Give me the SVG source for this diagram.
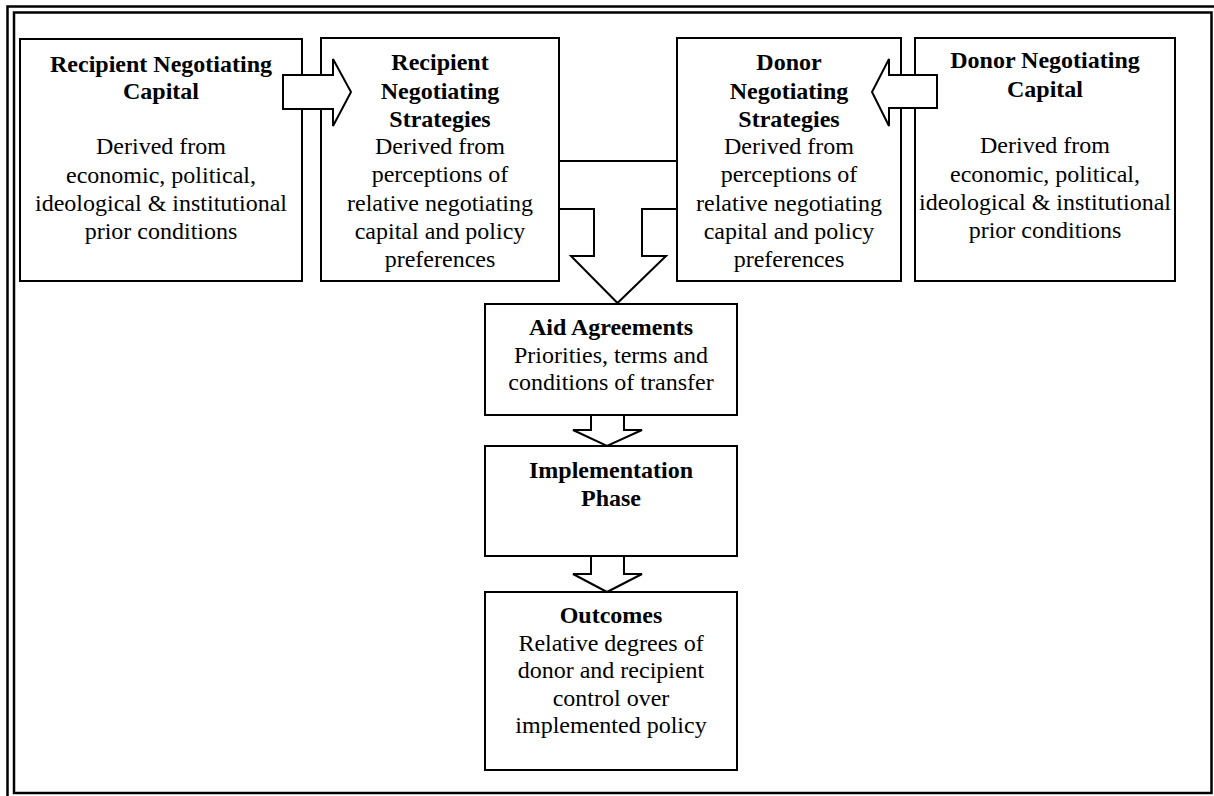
<svg xmlns="http://www.w3.org/2000/svg" width="1214" height="796" viewBox="0 0 1214 796">
<style>
.box{fill:#fff;stroke:#000;stroke-width:2}
.arr{fill:#fff;stroke:#000;stroke-width:2;stroke-linejoin:miter}
.ln{fill:none;stroke:#000;stroke-width:2}
.t{font-family:'Liberation Serif',serif;font-size:24px;text-anchor:middle;fill:#000}
.b{font-weight:bold}
</style>
<rect width="1214" height="796" fill="#fff"/>
<g id="frame">
<path d="M7.5,796 V6.5 H1214" fill="none" stroke="#000" stroke-width="2.5"/>
<rect x="14" y="12.5" width="1197.5" height="780.5" fill="none" stroke="#000" stroke-width="2.5"/>
</g>
<g id="n1">
<rect class="box" x="20" y="39" width="282" height="242"/>
<text class="t b" x="161" y="72">Recipient Negotiating</text>
<text class="t b" x="161" y="99">Capital</text>
<text class="t" x="161" y="154">Derived from</text>
<text class="t" x="161" y="183">economic, political,</text>
<text class="t" x="161" y="211">ideological &amp; institutional</text>
<text class="t" x="161" y="239">prior conditions</text>
</g>
<g id="n2">
<rect class="box" x="321" y="38" width="238" height="243"/>
<text class="t b" x="440" y="70">Recipient</text>
<text class="t b" x="440" y="99">Negotiating</text>
<text class="t b" x="440" y="127">Strategies</text>
<text class="t" x="440" y="154">Derived from</text>
<text class="t" x="440" y="182">perceptions of</text>
<text class="t" x="440" y="211">relative negotiating</text>
<text class="t" x="440" y="239">capital and policy</text>
<text class="t" x="440" y="267">preferences</text>
</g>
<g id="n3">
<rect class="box" x="677" y="38" width="224" height="243"/>
<text class="t b" x="789" y="70">Donor</text>
<text class="t b" x="789" y="99">Negotiating</text>
<text class="t b" x="789" y="127">Strategies</text>
<text class="t" x="789" y="154">Derived from</text>
<text class="t" x="789" y="182">perceptions of</text>
<text class="t" x="789" y="211">relative negotiating</text>
<text class="t" x="789" y="239">capital and policy</text>
<text class="t" x="789" y="267">preferences</text>
</g>
<g id="n4">
<rect class="box" x="915" y="38" width="260" height="243"/>
<text class="t b" x="1045" y="68">Donor Negotiating</text>
<text class="t b" x="1045" y="97">Capital</text>
<text class="t" x="1045" y="153">Derived from</text>
<text class="t" x="1045" y="182">economic, political,</text>
<text class="t" x="1045" y="210">ideological &amp; institutional</text>
<text class="t" x="1045" y="238">prior conditions</text>
</g>
<g id="n5">
<rect class="box" x="485" y="304" width="252" height="111"/>
<text class="t b" x="611" y="335">Aid Agreements</text>
<text class="t" x="611" y="363">Priorities, terms and</text>
<text class="t" x="611" y="390">conditions of transfer</text>
</g>
<g id="n6">
<rect class="box" x="485" y="446" width="252" height="110"/>
<text class="t b" x="611" y="478">Implementation</text>
<text class="t b" x="611" y="506">Phase</text>
</g>
<g id="n7">
<rect class="box" x="485" y="592" width="252" height="178"/>
<text class="t b" x="611" y="623">Outcomes</text>
<text class="t" x="611" y="651">Relative degrees of</text>
<text class="t" x="611" y="678">donor and recipient</text>
<text class="t" x="611" y="706">control over</text>
<text class="t" x="611" y="733">implemented policy</text>
</g>
<g id="connectors">
<polygon class="arr" points="283,75 333,75 333,59 351,92 333,126 333,109 283,109"/>
<polygon class="arr" points="937,75 889,75 889,59 872,92 889,126 889,108 937,108"/>
<line class="ln" x1="559" y1="161" x2="677" y2="161"/>
<polyline class="ln" points="559,209 594,209 594,256 571,256 617.5,303 666,256 642,256 642,209 677,209"/>
<polygon class="arr" points="591,415 591,430 573,430 607,446 642,430 624,430 624,415"/>
<polygon class="arr" points="591,556 591,574 573,574 607,592 642,574 624,574 624,556"/>
</g>
</svg>
